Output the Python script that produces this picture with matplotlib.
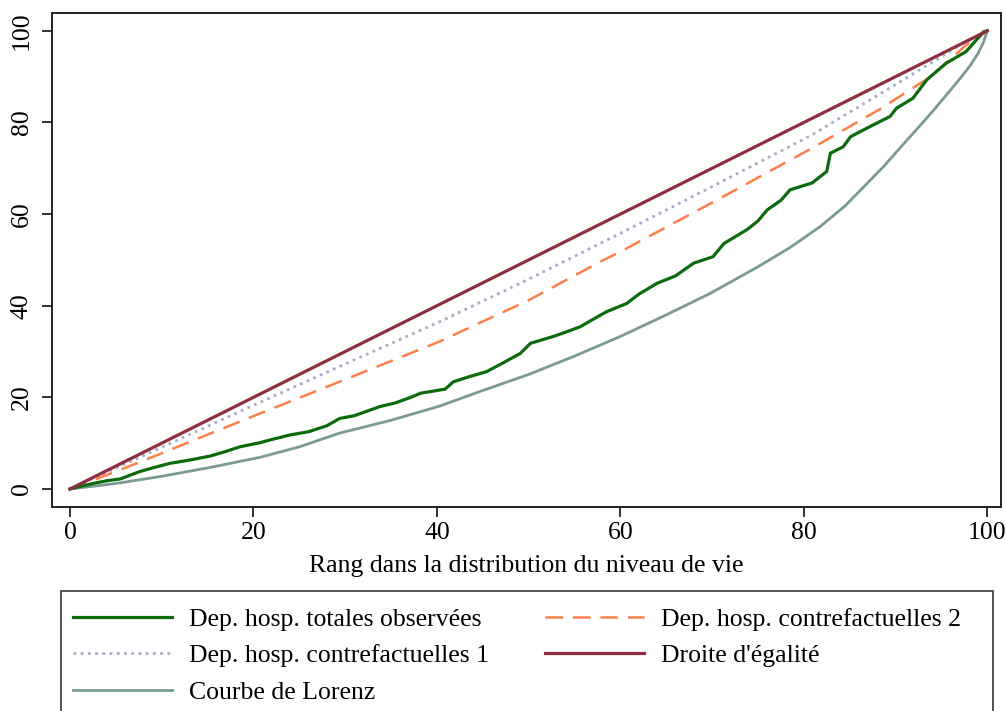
import matplotlib
matplotlib.use("Agg")
import matplotlib.pyplot as plt
from matplotlib.patches import Rectangle

plt.rcParams["font.family"] = ["Liberation Serif", "DejaVu Serif"]

obs_x = [0, 1, 2.5, 4, 5.5, 7.6, 9, 10.9, 13, 15.3, 17, 18.5, 20.7, 22, 24, 26, 28, 29.4,
         31, 33.8, 35.5, 37.4, 38.2, 40.3, 40.9, 41.8, 43.5, 45.4, 47, 49.1, 50.2, 52.7,
         54, 55.6, 57, 58.5, 60.7, 62, 64, 66, 68, 70.1, 71.3, 73.8, 75, 76, 77.5, 78.5,
         80.9, 82.5, 82.9, 84.3, 85.1, 87.2, 89.4, 90.1, 91.9, 93.4, 95.5, 97.7, 99.6, 100]
obs_y = [0, 0.5, 1.2, 1.8, 2.2, 3.8, 4.6, 5.6, 6.3, 7.2, 8.2, 9.2, 10.1, 10.8, 11.8, 12.5,
         13.8, 15.4, 16.0, 18.0, 18.8, 20.2, 20.9, 21.6, 21.8, 23.4, 24.5, 25.6, 27.3, 29.6,
         31.8, 33.3, 34.2, 35.4, 37.0, 38.7, 40.5, 42.5, 44.9, 46.5, 49.3, 50.7, 53.6, 56.6,
         58.5, 60.9, 63.0, 65.3, 66.8, 69.3, 73.3, 74.7, 76.9, 79.1, 81.3, 83.1, 85.3, 89.3,
         92.9, 95.5, 99.8, 100]

# Dep. hosp. contrefactuelles 1
cf1_x = [0, 10, 18.5, 30, 40.3, 50, 57.8, 60, 70, 80.9, 90.6, 97.7, 100]
cf1_y = [0, 9.1, 16.9, 27.3, 36.5, 45.8, 53.6, 55.8, 66.0, 77.3, 89.0, 97.7, 100]

# Dep. hosp. contrefactuelles 2
cf2_x = [0, 5, 10, 18.5, 30, 40.3, 50, 57.8, 60, 70, 80.9, 88.2, 93.6, 97.7, 100]
cf2_y = [0, 3.8, 7.8, 14.7, 23.9, 32.2, 41.2, 49.6, 51.8, 62.5, 74.4, 82.8, 89.7, 96.9, 100]

# Courbe de Lorenz
lor_x = [0, 5, 9.8, 15, 20.7, 25, 29.4, 35, 40.3, 45, 50, 55, 60, 65, 69.8, 75, 78.5,
         81.8, 84.5, 86.9, 88.8, 90.6, 92.4, 94.2, 95.8, 97.2, 98.2, 99, 99.6, 100]
lor_y = [0, 1.2, 2.7, 4.6, 6.9, 9.2, 12.2, 15, 18.1, 21.5, 25, 29, 33.3, 38, 42.7, 48.5,
         52.7, 57.3, 61.8, 66.7, 70.6, 74.7, 78.7, 82.8, 86.6, 90, 92.6, 95.1, 97.6, 100]

# Droite d'egalite
eg_x = [0, 100]
eg_y = [0, 100]

ticks = [0, 20, 40, 60, 80, 100]

fig = plt.figure(figsize=(10.06, 7.11), dpi=100)
ax = fig.add_axes([52 / 1006, 1 - 507 / 711, 949 / 1006, 494 / 711])

l_obs, = ax.plot(obs_x, obs_y, color="#0d6b0d", lw=2.3, label="Dep. hosp. totales observées", zorder=4)
l_cf1, = ax.plot(cf1_x, cf1_y, color="#a3afc4", lw=2.0, linestyle=(0, (1, 1.6)),
                 label="Dep. hosp. contrefactuelles 1", zorder=3)
l_lor, = ax.plot(lor_x, lor_y, color="#7a9c90", lw=2.0, label="Courbe de Lorenz", zorder=3)
l_cf2, = ax.plot(cf2_x, cf2_y, color="#ff7f4a", lw=1.8, linestyle=(0, (7, 4)),
                 label="Dep. hosp. contrefactuelles 2", zorder=3)
l_eg, = ax.plot(eg_x, eg_y, color="#8c3040", lw=2.3, label="Droite d'égalité", zorder=5)

ax.set_xlim(-1.96, 101.5)
ax.set_ylim(-3.93, 103.9)
ax.set_xticks(ticks)
ax.set_yticks(ticks)
ax.tick_params(axis="both", length=7, width=1.3, labelsize=18.5, color="#222222")
ax.tick_params(axis="y", labelrotation=90, pad=7)
for lab in ax.get_yticklabels():
    lab.set_va("center")
for s in ax.spines.values():
    s.set_linewidth(1.4)
    s.set_color("#222222")
ax.set_xlabel("Rang dans la distribution du niveau de vie", fontsize=18.5, labelpad=8)

# legend box (bottom edge is cut by the image border)
fig.add_artist(Rectangle((61 / 1006, -0.05), 932 / 1006, 1 - 591 / 711 + 0.05,
                         transform=fig.transFigure, fill=False, lw=1.3, edgecolor="#444444"))

kw = dict(frameon=False, fontsize=18.5, handlelength=3.85, handletextpad=0.66,
          labelspacing=0.52, borderpad=0, borderaxespad=0, loc="upper left")
fig.legend([l_obs, l_cf1, l_lor], [l_obs.get_label(), l_cf1.get_label(), l_lor.get_label()],
           bbox_to_anchor=(73 / 1006, 1 - 608 / 711), **kw)
fig.legend([l_cf2, l_eg], [l_cf2.get_label(), l_eg.get_label()],
           bbox_to_anchor=(545 / 1006, 1 - 608 / 711), **kw)

fig.savefig("out.png", dpi=100)
